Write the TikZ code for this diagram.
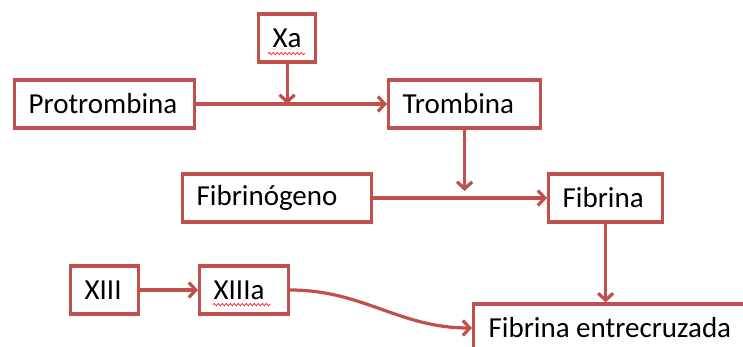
\documentclass[tikz,border=0pt]{standalone}
\usepackage{fontspec}
\setmainfont{Carlito}
\usetikzlibrary{arrows.meta,positioning,decorations.pathmorphing}
\definecolor{boxred}{HTML}{C0504D}

\begin{document}
\begin{tikzpicture}[x=1pt, y=-1pt, line width=3.2pt,
    box/.style={draw=boxred, fill=white, anchor=west, minimum height=48pt,
      inner xsep=14pt, inner ysep=0pt, align=left,
      font=\fontsize{29}{34}\selectfont},
    flow/.style={draw=boxred, -{Straight Barb[length=7pt,width=15pt]}},
    squig/.style={draw=red!85, line width=0.8pt, decorate,
      decoration={snake, amplitude=1.1pt, segment length=4pt}}]
  \useasboundingbox (0,0) rectangle (743,347);
  \node[box, text width=29pt] (xa) at (257,38) {Xa};
  \node[box, text width=152pt] (protro) at (13,104) {Protrombina};
  \node[box, text width=124pt] (trom) at (387,104) {Trombina};
  \node[box, text width=161pt] (fbg) at (181,198) {Fibrinógeno};
  \node[box, text width=86pt] (fib) at (547,198) {Fibrina};
  \node[box, text width=40pt] (xiii) at (69,290) {XIII};
  \node[box, text width=61pt] (xiiia) at (198,290) {XIIIa};
  \node[box, inner xsep=15pt] (fe) at (472,328) {Fibrina entrecruzada};
  % spell-check marks
  \draw[squig] ([xshift=11pt,yshift=10pt]xa.south west) -- ++(37,0);
  \draw[squig] ([xshift=15pt,yshift=11pt]xiiia.south west) -- ++(57,0);
  \path[flow]
    (protro) edge (trom)
    (xa) edge (xa.south |- protro.east)
    (trom) edge [shorten >=7pt] (trom.south |- fbg.east)
    (fbg) edge (fib)
    (fib) edge (fib.south |- fe.north)
    (xiii) edge (xiiia)
    (xiiia) edge [out=0, in=180] (fe.west);
\end{tikzpicture}
\end{document}
